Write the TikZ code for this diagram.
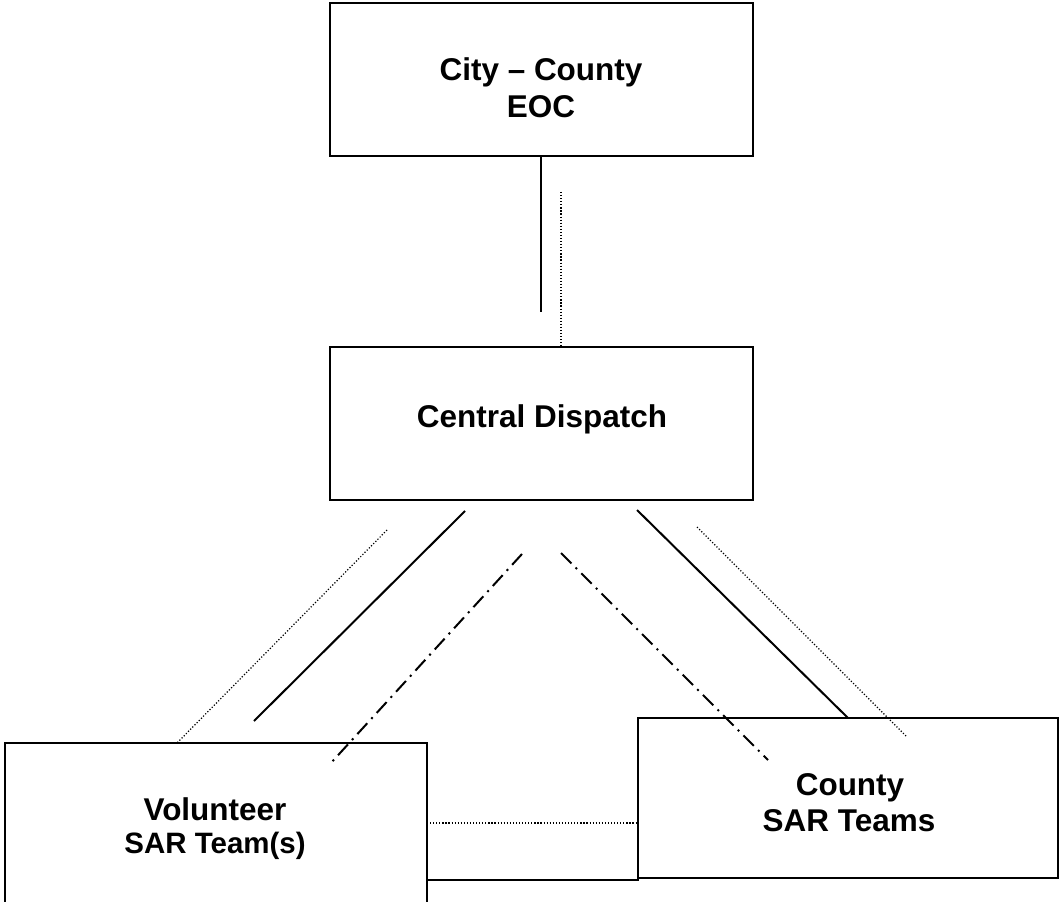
\documentclass[tikz,border=0pt]{standalone}
\usepackage{fontspec}
\setmainfont{Liberation Sans}
\begin{document}
\begin{tikzpicture}[x=0.75pt,y=-0.75pt,
  box/.style={draw, line width=1.5pt, inner sep=0pt, outer sep=0pt},
  lbl/.style={font=\fontsize{23.6}{28}\selectfont\bfseries, anchor=base, inner sep=0pt},
  lblsmall/.style={font=\fontsize{22.1}{26}\selectfont\bfseries, anchor=base, inner sep=0pt},
  solidc/.style={line width=1.5pt},
  dotc/.style={line width=0.9pt, dash pattern=on 0.9pt off 1.4pt},
  dashdotc/.style={line width=1.5pt, dash pattern=on 11pt off 4.5pt on 1.5pt off 4.5pt}]
\useasboundingbox (0,0) rectangle (1060,902);
\clip (0,0) rectangle (1060,902);
% boxes
\node[box, minimum width=317.25pt, minimum height=114.75pt] (eoc) at (541.5,79.5) {};
\node[box, minimum width=317.25pt, minimum height=114.75pt] (cd) at (541.5,423.5) {};
\node[box, minimum width=316.5pt, minimum height=162.75pt] (vol) at (216,851.5) {};
\node[box, minimum width=315pt, minimum height=120pt] (county) at (848,798) {};
% texts
\node[lbl] (t1) at (541,81) {City – County};
\node[lbl] (t2) at (541,118) {EOC};
\node[lbl] (t3) at (542,427) {Central Dispatch};
\node[lbl] (t4) at (215,820) {Volunteer};
\node[lblsmall] (t5) at (215,853) {SAR Team(s)};
\node[lbl] (t6) at (850,795) {County};
\node[lbl] (t7) at (849,831) {SAR Teams};
% free ends
\coordinate (x541) at (541,0);
\coordinate (x561) at (561,0);
\coordinate (c1) at (541,312);
\coordinate (c2) at (561,192);
\coordinate (l1a) at (387,530);
\coordinate (l2a) at (465,511);
\coordinate (l2b) at (254,721);
\coordinate (l3a) at (522,554);
\coordinate (l3b) at (330,764);
\coordinate (r1a) at (561,553);
\coordinate (r1b) at (768,760);
\coordinate (r2a) at (637,510);
\coordinate (r3a) at (697,527);
\coordinate (r3b) at (907,737);
\coordinate (y823) at (0,823);
\coordinate (y880) at (0,880);
\coordinate (x177) at (177,0);
\coordinate (x848) at (848,0);
% connectors
\draw[solidc] (eoc.south -| x541) -- (c1);
\draw[dotc] (c2) -- (cd.north -| x561);
\draw[dotc] (l1a) -- (vol.north -| x177);
\draw[solidc] (l2a) -- (l2b);
\draw[dashdotc] (l3a) -- (l3b);
\draw[dashdotc] (r1a) -- (r1b);
\draw[solidc] (r2a) -- (county.north -| x848);
\draw[dotc] (r3a) -- (r3b);
\draw[dotc] (vol.east |- y823) -- (county.west |- y823);
\draw[solidc] (vol.east |- y880) -- (county.west |- y880) -- (county.south west);
\end{tikzpicture}
\end{document}
